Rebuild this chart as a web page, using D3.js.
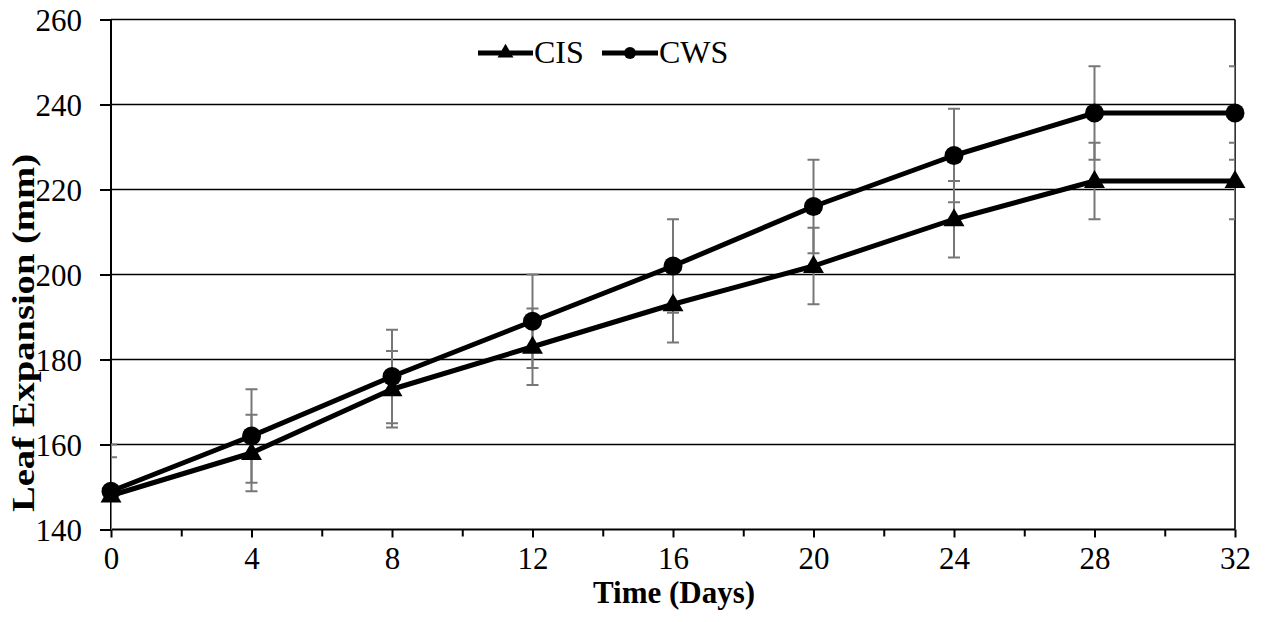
<!DOCTYPE html>
<html>
<head>
<meta charset="utf-8">
<script src="https://cdn.jsdelivr.net/npm/d3@7"></script>
<style>
  html, body { margin: 0; padding: 0; background: #fff; }
  svg { display: block; }
  text { font-family: "Liberation Serif", "Times New Roman", serif; fill: #000; }
</style>
</head>
<body>
<svg id="chart" width="1267" height="622"></svg>
<script>
// ---- data ----
const days = [0, 4, 8, 12, 16, 20, 24, 28, 32];
const cisValues = [148, 158, 173, 183, 193, 202, 213, 222, 222];
const cisErrors = [9, 9, 9, 9, 9, 9, 9, 9, 9];
const cwsValues = [149, 162, 176, 189, 202, 216, 228, 238, 238];
const cwsErrors = [11, 11, 11, 11, 11, 11, 11, 11, 11];
const xTickLabels = [0, 4, 8, 12, 16, 20, 24, 28, 32];
const xMinorTicks = [2, 6, 10, 14, 18, 22, 26, 30];
const yTickLabels = [140, 160, 180, 200, 220, 240, 260];
const seriesNames = ["CIS", "CWS"];
const xTitle = "Time (Days)";
const yTitle = "Leaf Expansion (mm)";

// ---- layout ----
const svg = d3.select("#chart");
const pLeft = 111, pRight = 1235, pTop = 19.5, pBottom = 529.5;
const x = d3.scaleLinear().domain([0, 32]).range([pLeft, pRight]);
const y = d3.scaleLinear().domain([140, 260]).range([pBottom, pTop]);
const fontSize = 31;

svg.append("defs").append("clipPath").attr("id", "plotclip")
  .append("rect").attr("x", pLeft).attr("y", pTop).attr("width", pRight - pLeft).attr("height", pBottom - pTop);

// gridlines
svg.append("g").selectAll("line").data(yTickLabels.filter(v => v > 140)).join("line")
  .attr("x1", pLeft).attr("x2", pRight)
  .attr("y1", d => y(d)).attr("y2", d => y(d))
  .attr("stroke", "#000").attr("stroke-width", 1.6);

// right border
svg.append("line").attr("x1", pRight).attr("x2", pRight).attr("y1", pTop).attr("y2", pBottom)
  .attr("stroke", "#000").attr("stroke-width", 1.6);

// x axis
const xAxis = d3.axisBottom(x).tickValues(xTickLabels).tickSize(8).tickPadding(9).tickFormat(d3.format("d"));
const gx = svg.append("g").attr("transform", `translate(0,${pBottom})`).call(xAxis);
gx.select(".domain").attr("stroke-width", 2).attr("d", `M${pLeft},0H${pRight}`);
gx.selectAll(".tick line").attr("stroke-width", 2);
gx.selectAll(".tick text").attr("font-size", fontSize).attr("font-family", "Liberation Serif, serif");
const xMinor = d3.axisBottom(x).tickValues(xMinorTicks).tickSize(7).tickFormat("");
const gxm = svg.append("g").attr("transform", `translate(0,${pBottom})`).call(xMinor);
gxm.select(".domain").remove();
gxm.selectAll(".tick line").attr("stroke-width", 2);

// y axis
const yAxis = d3.axisLeft(y).tickValues(yTickLabels).tickSize(11).tickPadding(18).tickFormat(d3.format("d"));
const gy = svg.append("g").attr("transform", `translate(${pLeft},0)`).call(yAxis);
gy.select(".domain").attr("stroke-width", 2).attr("d", `M0,${pTop}V${pBottom}`);
gy.selectAll(".tick line").attr("stroke-width", 2);
gy.selectAll(".tick text").attr("font-size", fontSize).attr("font-family", "Liberation Serif, serif").attr("dy", "0.34em");

// series definitions
const series = [
  { name: seriesNames[0], values: cisValues, errors: cisErrors, symbol: d3.symbolTriangle, size: 190 },
  { name: seriesNames[1], values: cwsValues, errors: cwsErrors, symbol: d3.symbolCircle, size: Math.PI * 90 }
];

const plot = svg.append("g").attr("clip-path", "url(#plotclip)");

// error bars
series.forEach(s => {
  const g = plot.append("g").attr("stroke", "#777").attr("stroke-width", 2);
  days.forEach((d, i) => {
    const lo = s.values[i] - s.errors[i], hi = s.values[i] + s.errors[i];
    g.append("line").attr("x1", x(d)).attr("x2", x(d)).attr("y1", y(lo)).attr("y2", y(hi));
    g.append("line").attr("x1", x(d) - 6).attr("x2", x(d) + 6).attr("y1", y(lo)).attr("y2", y(lo));
    g.append("line").attr("x1", x(d) - 6).attr("x2", x(d) + 6).attr("y1", y(hi)).attr("y2", y(hi));
  });
});

// lines
const line = d3.line().x((d, i) => x(days[i])).y(d => y(d));
series.forEach(s => {
  svg.append("path").datum(s.values).attr("d", line)
    .attr("fill", "none").attr("stroke", "#000").attr("stroke-width", 5).attr("stroke-linejoin", "round");
});

// markers
series.forEach(s => {
  svg.append("g").selectAll("path").data(s.values).join("path")
    .attr("d", d3.symbol().type(s.symbol).size(s.size))
    .attr("transform", (d, i) => `translate(${x(days[i])},${y(d) + (s.symbol === d3.symbolTriangle ? 1 : 0)})`)
    .attr("fill", "#000");
});

// legend
const legendY = 53;
const legendItems = [
  { x0: 478, x1: 533, tx: 534 },
  { x0: 602, x1: 658, tx: 659 }
];
series.forEach((s, i) => {
  const L = legendItems[i];
  const g = svg.append("g");
  g.append("line").attr("x1", L.x0).attr("x2", L.x1).attr("y1", legendY).attr("y2", legendY)
    .attr("stroke", "#000").attr("stroke-width", 5);
  g.append("path").attr("d", d3.symbol().type(s.symbol).size(s.symbol === d3.symbolTriangle ? 110 : Math.PI * 36))
    .attr("transform", `translate(${(L.x0 + L.x1) / 2},${legendY})`).attr("fill", "#000");
  g.append("text").attr("x", L.tx).attr("y", 63).attr("font-size", 32).text(s.name);
});

// axis titles
svg.append("text").attr("x", (pLeft + pRight) / 2 + 1).attr("y", 603).attr("text-anchor", "middle")
  .attr("font-size", fontSize).attr("font-weight", "bold").text(xTitle);
svg.append("text").attr("transform", `translate(34,333) rotate(-90)`)
  .attr("text-anchor", "middle").attr("font-size", 32).attr("font-weight", "bold")
  .attr("textLength", 358).attr("lengthAdjust", "spacingAndGlyphs").text(yTitle);
</script>
</body>
</html>
